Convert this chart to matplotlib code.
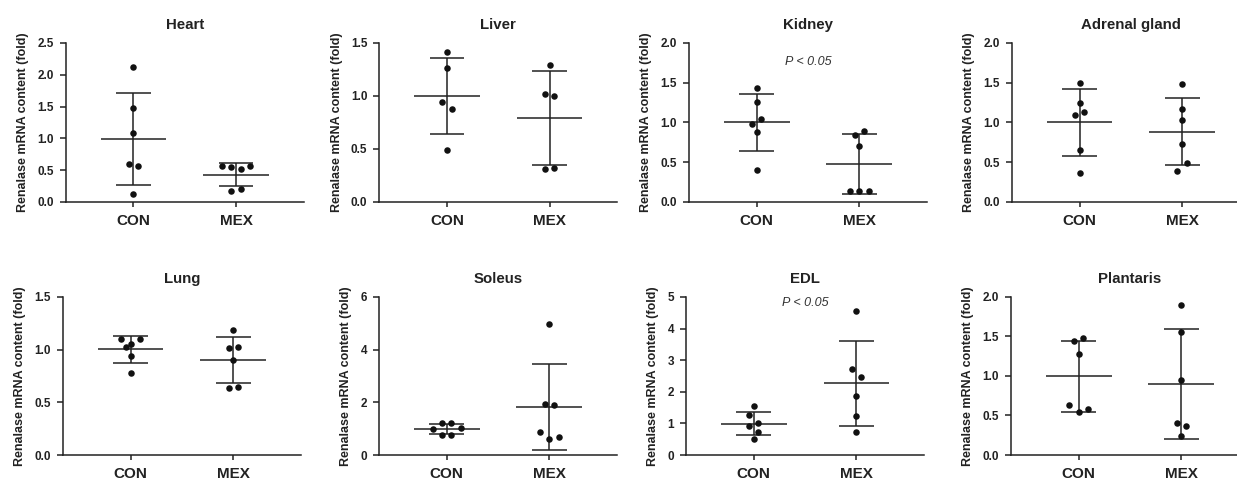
import numpy as np
import matplotlib
matplotlib.use("Agg")
import matplotlib.pyplot as plt

plt.rcParams['font.family'] = ['Liberation Sans', 'DejaVu Sans']

tissues = ["Heart", "Liver", "Kidney", "Adrenal gland", "Lung", "Soleus", "EDL", "Plantaris"]
groups = ["CON", "MEX"]

# fold values, in left-to-right order inside a row
heart_con = [2.12, 1.48, 1.085, 0.60, 0.56, 0.126]
heart_mex = [0.56, 0.545, 0.525, 0.56, 0.173, 0.21]
liver_con = [1.415, 1.263, 0.947, 0.881, 0.486]
liver_mex = [1.291, 1.014, 1.001, 0.313, 0.325]
kidney_con = [1.43, 1.258, 0.981, 1.048, 0.876, 0.407]
kidney_mex = [0.843, 0.889, 0.709, 0.134, 0.134, 0.134]
adrenal_con = [1.50, 1.25, 1.10, 1.13, 0.66, 0.36]
adrenal_mex = [1.486, 1.175, 1.036, 0.733, 0.392, 0.493]
lung_con = [1.105, 1.055, 1.105, 1.026, 0.938, 0.78]
lung_mex = [1.184, 1.017, 1.023, 0.906, 0.632, 0.65]
soleus_con = [0.973, 1.225, 1.2, 1.036, 0.77, 0.77]
soleus_mex = [4.964, 1.933, 1.895, 0.884, 0.619, 0.695]
edl_con = [1.558, 1.263, 1.021, 0.916, 0.726, 0.495]
edl_mex = [4.568, 2.716, 2.474, 1.853, 1.242, 0.737]
plantaris_con = [1.444, 1.478, 1.28, 0.636, 0.543, 0.581]
plantaris_mex = [1.895, 1.562, 0.943, 0.4, 0.362, 0.236]

con_vals = [heart_con, liver_con, kidney_con, adrenal_con, lung_con, soleus_con, edl_con, plantaris_con]
mex_vals = [heart_mex, liver_mex, kidney_mex, adrenal_mex, lung_mex, soleus_mex, edl_mex, plantaris_mex]

y_max = [2.5, 1.5, 2.0, 2.0, 1.5, 6, 5, 2.0]
y_step = [0.5, 0.5, 0.5, 0.5, 0.5, 2, 1, 0.5]
sig_text = {"Kidney": "P < 0.05", "EDL": "P < 0.05"}

ink = '#222222'


def swarm_offsets(ax, vals, row_px=8.2, gap_px=9.4, min_px=5.5):
    # lay dots out in rows, like a prism scatter
    bbox = ax.get_window_extent()
    x0, x1 = ax.get_xlim()
    y0, y1 = ax.get_ylim()
    px_x = bbox.width / (x1 - x0)
    px_y = bbox.height / (y1 - y0)
    yp = np.asarray(vals) * px_y
    order = np.argsort(-yp, kind='stable')
    rows = []
    for i in order:
        if rows and yp[rows[-1][0]] - yp[i] <= row_px:
            rows[-1].append(i)
        else:
            rows.append([i])
    off = np.zeros(len(yp))
    placed = []
    for row in rows:
        row = sorted(row)
        base = (np.arange(len(row)) - (len(row) - 1) / 2) * gap_px
        for shift in [0, -gap_px / 2, gap_px / 2, -gap_px, gap_px]:
            xs = base + shift
            ok = all(np.hypot(x - qx, yp[i] - qy) >= min_px
                     for x, i in zip(xs, row) for qx, qy in placed)
            if ok:
                break
        for x, i in zip(xs, row):
            off[i] = x / px_x
            placed.append((x, yp[i]))
    return off


fig = plt.figure(figsize=(12.37, 4.79), dpi=100)

lefts_top = [0.0531, 0.3066, 0.557, 0.818]
lefts_bot = [0.0509, 0.3064, 0.5546, 0.8173]
w = 0.1924

for k, name in enumerate(tissues):
    if k < 4:
        ax = fig.add_axes([lefts_top[k], 0.5783, w, 0.332])
    else:
        ax = fig.add_axes([lefts_bot[k - 4], 0.0501, w, 0.3299])
    ax.set_xlim(-0.66, 1.66)
    ax.set_ylim(0, y_max[k])

    for g, vals in enumerate([con_vals[k], mex_vals[k]]):
        vals = np.array(vals)
        m = vals.mean()
        sd = vals.std(ddof=1)
        ax.hlines(m, g - 0.32, g + 0.32, color=ink, lw=1.1, zorder=2)
        ax.hlines([m - sd, m + sd], g - 0.17, g + 0.17, color=ink, lw=1.1, zorder=2)
        ax.vlines(g, m - sd, m + sd, color=ink, lw=1.1, zorder=2)
        off = swarm_offsets(ax, vals)
        ax.scatter(g + off, vals, s=22, color='#111111', zorder=3, linewidths=0)

    ticks = np.arange(0, y_max[k] + 1e-9, y_step[k])
    ax.set_yticks(ticks)
    if y_step[k] < 1:
        ax.set_yticklabels(['%.1f' % t for t in ticks])
    else:
        ax.set_yticklabels(['%d' % t for t in ticks])
    ax.set_xticks([0, 1])
    ax.set_xticklabels(groups, fontsize=11, fontweight='bold', color=ink)

    for lab in ax.get_yticklabels():
        lab.set_fontsize(8.5)
        lab.set_fontweight('bold')
        lab.set_color(ink)
    ax.tick_params(axis='y', length=4, width=1.1, color=ink, pad=4.5)
    ax.tick_params(axis='x', length=3.5, width=1.1, color=ink, pad=5)

    for side in ['top', 'right']:
        ax.spines[side].set_visible(False)
    for side in ['left', 'bottom']:
        ax.spines[side].set_linewidth(1.1)
        ax.spines[side].set_color(ink)

    ax.set_ylabel("Renalase mRNA content (fold)", fontsize=9, fontweight='bold',
                  color=ink, labelpad=6)
    ax.set_title(name, fontsize=10.8, fontweight='bold', color=ink, pad=10)

    if name in sig_text:
        ypos = 0.88 if k < 4 else 0.96
        ax.text(0.5, ypos * y_max[k], sig_text[name], ha='center', va='center',
                fontsize=9, style='italic', color='#333333')

fig.savefig("out.png", dpi=100)
